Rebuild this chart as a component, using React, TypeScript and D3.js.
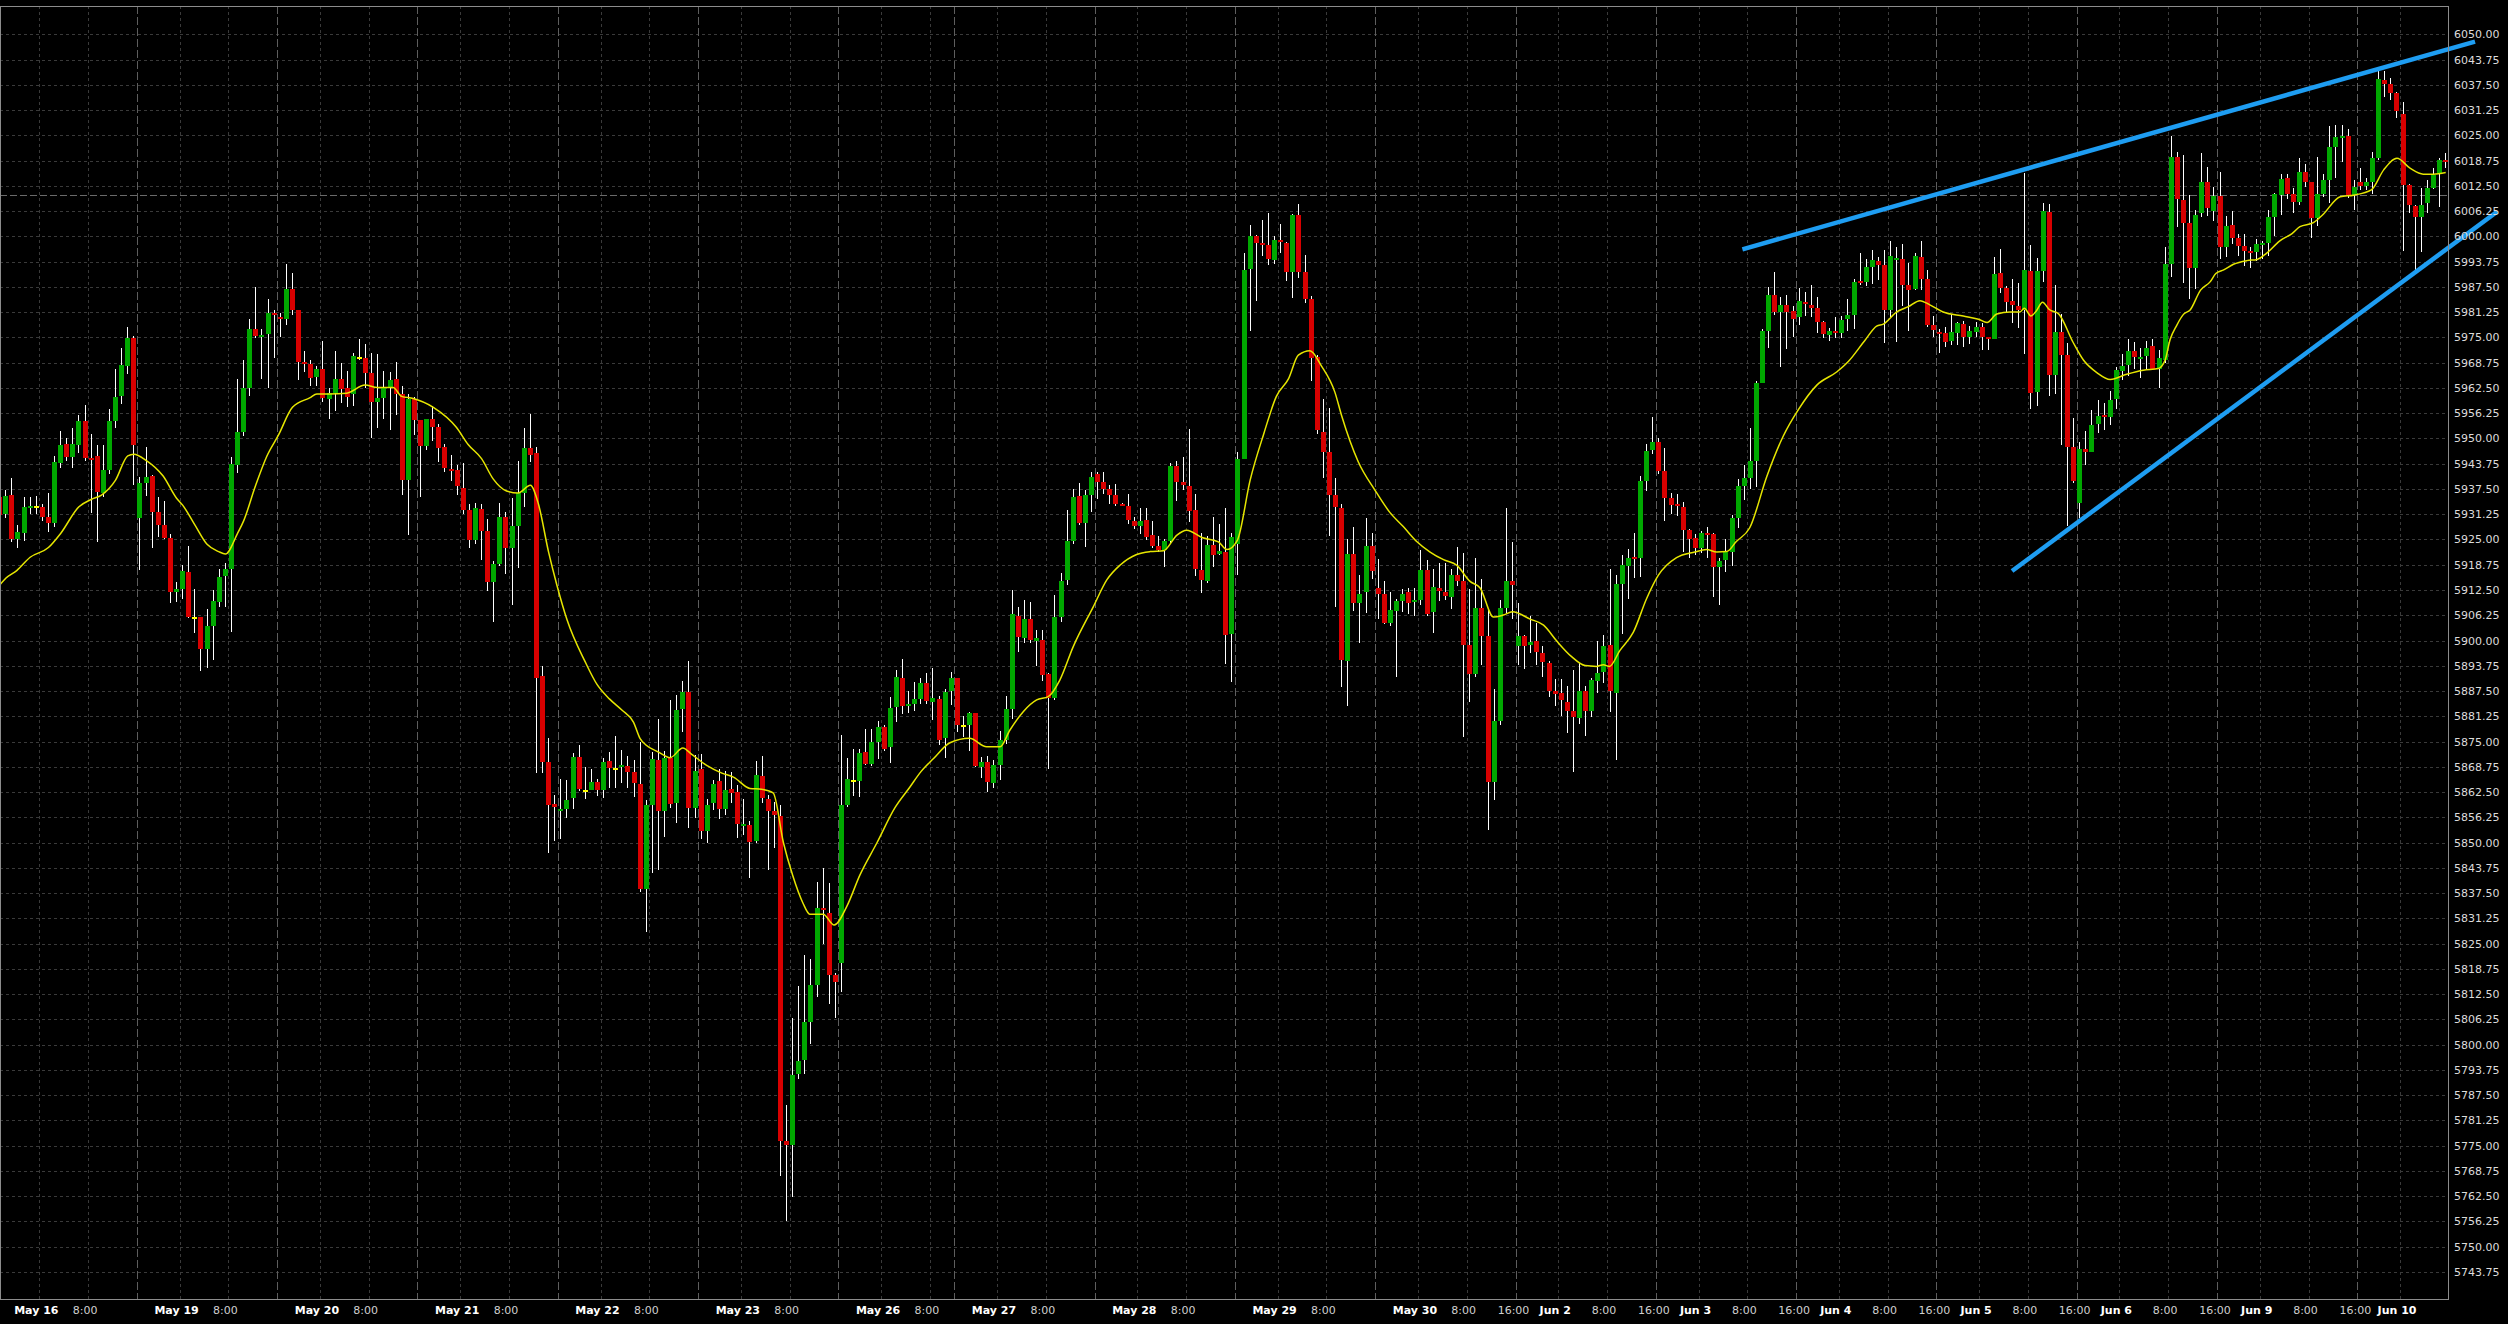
import { useEffect, useRef } from "react";
import * as d3 from "d3";

// Hourly candles, bar 0 .. 401 (May 15 evening -> Jun 10 morning)
const OPEN = [
  5935.5, 5931.4, 5936.0, 5925.2, 5926.7, 5932.9, 5933.0, 5933.0, 5930.5, 5929.1,
  5944.0, 5948.6, 5945.5, 5948.4, 5954.3, 5945.2, 5945.6, 5936.6, 5942.2, 5954.3,
  5960.6, 5968.0, 5974.8, 5930.4, 5938.9, 5940.7, 5931.9, 5928.5, 5925.4, 5912.1,
  5912.7, 5916.9, 5905.5, 5905.7, 5897.8, 5903.6, 5909.6, 5915.9, 5917.7, 5943.4,
  5951.6, 5962.6, 5977.0, 5975.2, 5975.8, 5981.1, 5980.1, 5979.5, 5986.9, 5981.8,
  5969.0, 5968.4, 5965.1, 5967.1, 5959.7, 5961.2, 5964.7, 5962.4, 5960.9, 5969.9,
  5969.9, 5966.2, 5958.9, 5959.9, 5962.7, 5964.7, 5961.0, 5939.7, 5959.7, 5954.5,
  5948.1, 5954.8, 5952.9, 5947.9, 5942.5, 5942.2, 5937.8, 5932.3, 5924.8, 5932.5,
  5927.0, 5914.6, 5919.0, 5930.6, 5922.9, 5928.3, 5936.6, 5947.6, 5946.4, 5891.1,
  5869.9, 5859.6, 5857.9, 5858.3, 5861.0, 5871.3, 5862.8, 5863.0, 5865.1, 5862.9,
  5870.1, 5868.3, 5868.6, 5868.9, 5867.5, 5864.5, 5838.6, 5859.4, 5870.5, 5857.7,
  5871.0, 5859.9, 5883.1, 5887.3, 5858.6, 5868.2, 5852.8, 5859.9, 5865.3, 5858.2,
  5863.2, 5862.4, 5854.1, 5854.4, 5850.4, 5866.5, 5860.8, 5857.8, 5856.6, 5776.1,
  5775.1, 5792.7, 5796.2, 5805.5, 5814.7, 5833.9, 5832.7, 5817.2, 5820.3, 5859.4,
  5865.3, 5865.3, 5872.4, 5869.5, 5875.0, 5878.6, 5873.6, 5883.6, 5890.8, 5883.8,
  5884.3, 5885.5, 5889.5, 5884.9, 5885.5, 5875.9, 5887.5, 5890.8, 5878.9, 5879.1,
  5882.0, 5868.8, 5870.0, 5864.8, 5869.2, 5875.4, 5883.0, 5906.0, 5900.5, 5905.3,
  5900.0, 5900.1, 5891.7, 5885.8, 5905.9, 5915.0, 5924.7, 5935.8, 5929.1, 5936.0,
  5941.2, 5939.1, 5937.4, 5936.0, 5933.9, 5933.3, 5929.6, 5928.4, 5929.8, 5926.1,
  5923.4, 5922.4, 5924.6, 5943.2, 5939.1, 5938.2, 5932.3, 5917.4, 5914.8, 5923.6,
  5921.5, 5922.0, 5901.6, 5924.0, 5945.0, 5992.0, 6000.0, 5998.3, 5997.8, 5994.2,
  5999.0, 5998.3, 5991.2, 6005.3, 5991.2, 5984.6, 5970.1, 5951.7, 5946.6, 5935.9,
  5932.7, 5895.0, 5921.4, 5909.4, 5912.0, 5923.5, 5913.0, 5911.5, 5904.3, 5907.4,
  5909.9, 5912.0, 5909.6, 5910.1, 5917.4, 5907.1, 5913.0, 5912.0, 5910.7, 5916.1,
  5914.8, 5899.0, 5891.7, 5908.1, 5901.2, 5865.1, 5880.0, 5908.1, 5914.8, 5898.6,
  5901.2, 5898.8, 5899.9, 5896.8, 5894.5, 5887.4, 5886.9, 5884.7, 5882.6, 5880.8,
  5887.6, 5882.6, 5890.1, 5892.3, 5898.9, 5887.0, 5914.1, 5918.5, 5920.6, 5920.3,
  5939.4, 5947.1, 5949.1, 5941.9, 5935.3, 5933.7, 5933.1, 5927.3, 5925.4, 5922.9,
  5926.6, 5926.3, 5918.3, 5919.9, 5921.9, 5930.3, 5938.2, 5940.2, 5944.4, 5963.8,
  5976.5, 5985.5, 5981.2, 5983.1, 5981.5, 5980.0, 5983.7, 5983.1, 5982.4, 5978.7,
  5975.6, 5976.5, 5976.0, 5979.6, 5980.6, 5988.8, 5988.8, 5992.3, 5993.9, 5992.9,
  5981.9, 5994.2, 5994.4, 5988.0, 5987.0, 5995.0, 5989.5, 5978.1, 5976.4, 5976.2,
  5974.1, 5976.2, 5978.3, 5975.2, 5976.4, 5977.5, 5975.0, 5974.6, 5990.9, 5987.3,
  5984.0, 5982.8, 5981.8, 5991.4, 5961.6, 5991.4, 6006.1, 5965.7, 5976.3, 5970.6,
  5947.9, 5934.1, 5947.3, 5946.7, 5953.5, 5955.8, 5955.4, 5959.8, 5966.8, 5968.2,
  5971.6, 5969.8, 5970.4, 5972.9, 5967.3, 5969.4, 5993.2, 6019.6, 6009.0, 6003.2,
  5992.2, 6005.7, 6013.4, 6006.3, 6010.0, 5997.4, 6002.8, 5999.5, 5997.6, 5996.4,
  5996.2, 5997.9, 5998.4, 6004.9, 6010.3, 6014.4, 6010.5, 6008.6, 6016.0, 6013.5,
  6004.5, 6010.5, 6013.9, 6022.2, 6024.4, 6024.8, 6010.2, 6013.5, 6012.5, 6013.5,
  6019.5, 6038.7, 6037.7, 6035.4, 6030.4, 6012.7, 6007.5, 6004.9, 6008.3, 6011.9,
  6015.6, 6018.9,
];

const HIGH = [
  5936.5, 5937.2, 5940.1, 5928.6, 5935.6, 5935.6, 5935.7, 5933.9, 5936.4, 5945.6,
  5951.8, 5950.0, 5952.5, 5955.8, 5958.2, 5951.0, 5948.3, 5948.4, 5957.4, 5967.1,
  5972.5, 5977.5, 5975.3, 5940.5, 5947.8, 5941.0, 5935.6, 5934.6, 5926.3, 5914.5,
  5918.8, 5923.4, 5912.7, 5905.9, 5907.7, 5912.6, 5917.8, 5919.1, 5945.5, 5964.6,
  5969.4, 5979.5, 5987.4, 5977.2, 5984.4, 5981.9, 5981.1, 5993.2, 5991.0, 5981.9,
  5971.7, 5969.5, 5967.9, 5974.1, 5962.6, 5971.6, 5968.6, 5966.8, 5971.2, 5974.6,
  5973.4, 5971.2, 5970.9, 5966.8, 5966.4, 5968.9, 5962.9, 5961.0, 5960.2, 5954.6,
  5954.8, 5958.0, 5953.6, 5948.6, 5945.9, 5943.5, 5943.9, 5933.9, 5934.1, 5933.9,
  5930.1, 5919.6, 5934.1, 5931.7, 5935.2, 5944.4, 5952.5, 5956.0, 5948.0, 5893.6,
  5875.9, 5861.9, 5865.8, 5865.4, 5872.1, 5874.1, 5868.8, 5868.2, 5865.7, 5871.0,
  5872.3, 5876.3, 5873.0, 5871.4, 5870.5, 5874.8, 5860.6, 5872.4, 5880.5, 5872.7,
  5885.2, 5886.6, 5890.0, 5894.9, 5871.7, 5871.9, 5860.8, 5865.6, 5868.1, 5867.7,
  5867.5, 5864.3, 5860.8, 5855.4, 5870.1, 5871.4, 5861.8, 5860.1, 5859.2, 5785.1,
  5806.6, 5814.5, 5822.2, 5821.1, 5840.3, 5843.6, 5840.0, 5817.8, 5876.7, 5871.0,
  5873.1, 5873.1, 5878.1, 5878.1, 5880.0, 5879.1, 5886.1, 5892.6, 5895.4, 5887.5,
  5889.7, 5890.7, 5891.9, 5893.1, 5886.3, 5888.1, 5892.1, 5890.8, 5881.3, 5882.4,
  5882.1, 5871.1, 5871.5, 5870.4, 5877.6, 5886.3, 5912.5, 5908.4, 5910.0, 5909.6,
  5902.6, 5902.6, 5891.9, 5911.2, 5916.6, 5932.3, 5937.4, 5938.9, 5937.2, 5941.8,
  5941.8, 5941.8, 5938.5, 5938.7, 5934.1, 5936.2, 5930.6, 5932.7, 5932.9, 5929.6,
  5925.9, 5925.0, 5944.0, 5944.4, 5945.3, 5952.3, 5936.2, 5926.5, 5925.9, 5930.5,
  5928.8, 5932.7, 5926.7, 5946.6, 5996.0, 6002.8, 6000.4, 6004.1, 6005.8, 6000.0,
  6003.1, 5998.6, 6005.5, 6007.9, 5995.3, 5985.3, 5970.6, 5959.7, 5957.6, 5940.2,
  5933.7, 5925.0, 5928.2, 5916.3, 5930.4, 5926.5, 5920.2, 5914.8, 5912.0, 5910.2,
  5912.8, 5913.0, 5913.0, 5922.5, 5920.0, 5917.6, 5919.2, 5919.2, 5917.8, 5923.1,
  5921.7, 5912.8, 5920.4, 5915.1, 5907.7, 5887.9, 5910.0, 5932.7, 5924.5, 5909.4,
  5901.4, 5906.0, 5904.3, 5898.6, 5895.0, 5890.5, 5890.5, 5888.7, 5892.7, 5894.5,
  5888.7, 5890.8, 5899.9, 5901.4, 5917.6, 5916.1, 5921.2, 5922.7, 5926.7, 5940.6,
  5948.6, 5955.3, 5950.0, 5947.7, 5936.4, 5936.2, 5934.2, 5927.5, 5926.3, 5927.2,
  5928.2, 5926.7, 5920.3, 5925.0, 5931.1, 5940.0, 5943.5, 5952.6, 5964.3, 5977.1,
  5987.4, 5991.2, 5985.0, 5985.5, 5982.7, 5987.3, 5986.2, 5987.9, 5985.0, 5979.0,
  5977.4, 5980.0, 5980.4, 5984.6, 5989.5, 5996.0, 5994.4, 5996.6, 5994.8, 5996.6,
  5998.9, 5997.3, 5998.1, 5993.3, 5996.0, 5998.9, 5991.8, 5980.3, 5977.0, 5977.6,
  5980.9, 5978.9, 5979.0, 5977.8, 5978.9, 5978.5, 5975.2, 5995.0, 5996.9, 5987.8,
  5989.4, 5988.4, 6015.8, 5997.9, 5994.6, 6008.3, 6008.0, 5988.0, 5980.7, 5973.5,
  5955.0, 5949.2, 5951.9, 5957.0, 5959.5, 5958.7, 5961.8, 5967.8, 5970.8, 5974.5,
  5973.9, 5972.3, 5974.1, 5974.5, 5972.0, 5997.4, 6024.8, 6021.0, 6020.1, 6010.2,
  6006.5, 6020.7, 6017.2, 6012.1, 6016.0, 6005.0, 6006.3, 6000.6, 6000.6, 5997.4,
  5999.3, 5998.9, 6006.5, 6010.8, 6015.4, 6015.4, 6012.0, 6019.5, 6017.9, 6013.5,
  6019.7, 6015.4, 6027.3, 6027.6, 6027.6, 6026.5, 6013.9, 6016.8, 6014.4, 6020.9,
  6040.8, 6040.8, 6039.1, 6035.8, 6033.3, 6012.9, 6007.7, 6011.9, 6013.9, 6016.8,
  6019.3, 6020.7,
];

const LOW = [
  5930.0, 5930.2, 5924.4, 5922.8, 5924.7, 5931.4, 5931.4, 5929.6, 5926.9, 5928.1,
  5942.8, 5944.5, 5942.8, 5946.5, 5944.5, 5931.6, 5924.4, 5935.6, 5941.2, 5952.7,
  5958.5, 5966.0, 5938.5, 5917.4, 5935.7, 5922.9, 5925.5, 5925.2, 5909.3, 5909.6,
  5910.2, 5905.5, 5901.8, 5892.5, 5893.3, 5895.3, 5908.2, 5908.2, 5902.2, 5941.5,
  5950.6, 5960.5, 5974.8, 5964.7, 5962.6, 5970.0, 5975.0, 5978.1, 5980.5, 5964.5,
  5966.5, 5962.9, 5962.9, 5959.1, 5954.9, 5956.9, 5958.8, 5957.9, 5958.0, 5969.5,
  5962.6, 5950.2, 5952.7, 5954.7, 5952.2, 5955.8, 5936.1, 5926.2, 5950.9, 5935.6,
  5947.2, 5949.4, 5944.2, 5941.6, 5939.5, 5935.9, 5931.2, 5922.9, 5924.0, 5919.8,
  5912.2, 5904.7, 5918.5, 5916.5, 5908.7, 5917.9, 5933.0, 5944.2, 5867.1, 5867.1,
  5847.5, 5850.5, 5850.9, 5856.1, 5858.3, 5862.7, 5860.8, 5863.0, 5861.6, 5861.0,
  5863.5, 5863.5, 5864.8, 5863.4, 5861.3, 5837.8, 5828.0, 5842.6, 5843.3, 5851.4,
  5858.5, 5854.9, 5877.4, 5853.7, 5856.1, 5850.9, 5849.8, 5858.0, 5855.9, 5856.9,
  5859.9, 5851.2, 5852.0, 5841.2, 5849.9, 5859.9, 5843.3, 5848.7, 5767.6, 5756.4,
  5762.2, 5791.4, 5792.7, 5800.1, 5811.9, 5825.0, 5810.0, 5806.6, 5813.0, 5858.9,
  5861.5, 5861.3, 5869.1, 5868.9, 5870.8, 5872.7, 5869.8, 5879.8, 5881.7, 5882.1,
  5882.6, 5884.2, 5884.2, 5880.3, 5874.1, 5871.0, 5884.0, 5877.3, 5876.2, 5872.7,
  5868.8, 5865.9, 5862.6, 5863.6, 5865.6, 5874.5, 5880.7, 5897.2, 5899.5, 5899.3,
  5893.8, 5890.1, 5868.1, 5885.4, 5904.6, 5913.7, 5923.9, 5928.6, 5923.2, 5931.9,
  5935.0, 5936.2, 5933.9, 5933.3, 5933.3, 5928.8, 5927.6, 5926.3, 5924.9, 5922.8,
  5922.0, 5918.3, 5924.0, 5934.6, 5937.2, 5929.4, 5915.9, 5911.8, 5914.3, 5918.3,
  5921.1, 5894.3, 5889.8, 5916.3, 5944.8, 5976.6, 5984.0, 5995.1, 5993.0, 5993.2,
  5995.9, 5988.9, 5984.8, 5989.7, 5983.6, 5964.3, 5951.0, 5940.2, 5925.8, 5908.4,
  5888.4, 5883.8, 5907.4, 5899.4, 5906.8, 5915.1, 5905.3, 5904.0, 5903.6, 5890.9,
  5907.1, 5906.6, 5906.1, 5908.9, 5906.0, 5901.9, 5909.9, 5910.1, 5907.7, 5913.5,
  5876.1, 5884.8, 5890.9, 5894.0, 5853.0, 5860.5, 5879.1, 5906.8, 5905.3, 5894.0,
  5893.0, 5896.8, 5894.0, 5890.9, 5886.1, 5883.9, 5881.4, 5877.2, 5867.5, 5879.4,
  5876.4, 5881.2, 5886.9, 5889.6, 5882.3, 5870.4, 5901.6, 5910.2, 5915.4, 5915.7,
  5936.9, 5946.2, 5941.3, 5929.6, 5931.4, 5930.7, 5921.9, 5920.5, 5921.2, 5921.7,
  5920.5, 5910.8, 5908.8, 5917.0, 5918.5, 5927.9, 5934.7, 5937.6, 5937.9, 5963.6,
  5972.4, 5980.6, 5967.8, 5972.2, 5975.1, 5978.0, 5980.2, 5980.0, 5976.2, 5974.9,
  5974.2, 5974.9, 5974.9, 5976.7, 5977.1, 5988.0, 5987.6, 5988.2, 5989.2, 5973.7,
  5979.7, 5973.9, 5982.8, 5976.7, 5986.7, 5986.7, 5977.6, 5975.0, 5971.2, 5972.7,
  5973.1, 5973.1, 5972.7, 5973.4, 5975.2, 5971.9, 5971.9, 5974.6, 5985.9, 5981.4,
  5978.6, 5977.4, 5970.8, 5957.4, 5958.1, 5988.8, 5960.5, 5961.0, 5948.4, 5928.3,
  5938.9, 5930.2, 5943.4, 5946.7, 5951.3, 5952.2, 5953.3, 5957.4, 5964.5, 5965.5,
  5967.1, 5964.9, 5967.3, 5966.9, 5962.4, 5968.7, 5990.0, 6002.4, 5988.5, 5984.4,
  5986.9, 6004.9, 6005.0, 6003.9, 5994.5, 5994.8, 5998.1, 5995.2, 5992.7, 5992.1,
  5994.0, 5994.3, 5995.1, 6000.1, 6005.3, 6009.3, 6005.9, 6007.8, 6012.3, 5999.7,
  6002.5, 6009.8, 6008.2, 6014.4, 6018.5, 6009.4, 6006.5, 6011.5, 6011.5, 6010.6,
  6018.9, 6034.6, 6033.7, 6029.2, 5996.4, 6005.7, 5991.8, 5996.2, 6005.7, 6011.6,
  6007.3, 6016.8,
];

const CLOSE = [
  5931.0, 5935.7, 5925.2, 5926.8, 5933.0, 5933.3, 5933.0, 5930.5, 5929.1, 5944.2,
  5948.4, 5945.5, 5948.6, 5954.3, 5945.2, 5944.8, 5936.8, 5942.2, 5954.3, 5960.2,
  5968.2, 5974.8, 5948.4, 5938.9, 5940.4, 5931.9, 5928.5, 5925.4, 5912.1, 5912.7,
  5917.2, 5905.9, 5905.5, 5897.8, 5903.6, 5909.8, 5915.6, 5917.7, 5943.7, 5951.6,
  5962.6, 5977.0, 5975.3, 5975.6, 5981.1, 5980.6, 5979.5, 5987.1, 5981.8, 5969.0,
  5968.5, 5964.9, 5967.1, 5959.9, 5961.2, 5964.7, 5962.3, 5960.3, 5970.4, 5969.9,
  5966.3, 5959.1, 5960.0, 5962.7, 5964.4, 5961.0, 5939.8, 5959.7, 5954.5, 5948.1,
  5954.8, 5952.9, 5947.7, 5942.7, 5942.0, 5938.2, 5932.3, 5924.8, 5932.8, 5927.0,
  5914.6, 5919.0, 5930.6, 5922.9, 5928.3, 5936.6, 5947.6, 5945.9, 5890.8, 5869.9,
  5859.4, 5858.8, 5858.3, 5860.6, 5871.3, 5863.2, 5862.8, 5864.9, 5862.9, 5869.9,
  5868.5, 5868.3, 5869.2, 5867.5, 5864.8, 5838.6, 5859.4, 5870.6, 5857.7, 5871.0,
  5859.6, 5882.8, 5887.3, 5858.6, 5867.7, 5852.8, 5859.4, 5864.6, 5858.2, 5862.9,
  5862.2, 5854.5, 5854.6, 5850.2, 5866.7, 5861.1, 5857.8, 5856.9, 5776.1, 5775.1,
  5792.5, 5796.0, 5805.5, 5814.7, 5833.9, 5833.2, 5817.3, 5815.4, 5859.4, 5865.8,
  5865.3, 5872.2, 5869.5, 5874.9, 5878.6, 5873.1, 5883.3, 5890.9, 5883.8, 5884.3,
  5885.6, 5889.5, 5885.0, 5885.7, 5875.4, 5887.2, 5890.8, 5879.1, 5878.9, 5882.0,
  5869.0, 5870.0, 5865.1, 5869.2, 5875.4, 5883.0, 5906.5, 5900.8, 5905.3, 5900.1,
  5900.5, 5891.5, 5885.7, 5905.7, 5914.7, 5924.7, 5935.4, 5929.1, 5936.0, 5940.4,
  5939.3, 5937.4, 5936.0, 5933.9, 5933.4, 5929.8, 5928.4, 5929.6, 5925.7, 5923.4,
  5922.4, 5924.6, 5943.2, 5939.1, 5938.5, 5932.1, 5917.7, 5915.0, 5923.6, 5921.1,
  5922.1, 5901.3, 5925.7, 5944.8, 5991.7, 6000.0, 5998.3, 5997.8, 5994.5, 5999.0,
  5998.5, 5991.2, 6005.3, 5991.2, 5984.6, 5969.9, 5952.0, 5946.6, 5936.1, 5933.0,
  5895.3, 5921.4, 5909.4, 5911.5, 5923.5, 5917.1, 5911.5, 5904.3, 5907.6, 5909.9,
  5911.5, 5909.4, 5910.1, 5917.4, 5906.6, 5913.2, 5912.2, 5911.0, 5916.1, 5914.8,
  5899.0, 5891.7, 5908.1, 5901.2, 5865.1, 5880.0, 5908.1, 5914.8, 5913.8, 5901.2,
  5898.6, 5899.7, 5897.1, 5894.7, 5887.4, 5886.8, 5885.2, 5882.6, 5881.0, 5887.4,
  5882.6, 5890.2, 5892.0, 5898.6, 5887.4, 5913.9, 5918.8, 5920.5, 5920.3, 5939.4,
  5946.8, 5949.1, 5941.9, 5935.3, 5933.5, 5933.3, 5927.3, 5925.1, 5922.9, 5926.6,
  5926.1, 5918.3, 5919.7, 5921.9, 5930.4, 5938.2, 5940.2, 5944.4, 5963.8, 5976.5,
  5985.5, 5981.2, 5983.1, 5981.2, 5979.5, 5983.9, 5983.3, 5982.4, 5978.7, 5975.8,
  5976.7, 5976.0, 5979.3, 5980.6, 5988.8, 5988.5, 5992.3, 5994.2, 5992.9, 5981.8,
  5995.1, 5994.6, 5988.0, 5986.7, 5995.1, 5989.5, 5978.1, 5976.8, 5975.8, 5973.9,
  5976.3, 5978.5, 5975.0, 5976.6, 5977.5, 5975.0, 5974.5, 5990.7, 5987.3, 5983.8,
  5983.0, 5981.8, 5991.8, 5961.3, 5991.4, 6006.4, 5965.7, 5976.3, 5970.6, 5947.9,
  5939.5, 5947.4, 5946.7, 5953.3, 5955.5, 5955.4, 5959.5, 5967.0, 5967.9, 5971.6,
  5970.1, 5970.2, 5972.5, 5967.3, 5969.8, 5993.2, 6019.6, 6009.2, 6003.4, 5992.1,
  6005.3, 6013.4, 6006.9, 6010.0, 5997.4, 6002.6, 5999.7, 5997.7, 5996.4, 5996.0,
  5998.1, 5998.4, 6004.9, 6010.5, 6014.2, 6010.5, 6008.6, 6016.0, 6013.5, 6004.5,
  6010.5, 6013.9, 6022.2, 6024.7, 6024.8, 6010.2, 6012.1, 6012.5, 6013.5, 6019.5,
  6038.9, 6037.7, 6035.4, 6030.9, 6012.7, 6007.7, 6004.9, 6007.7, 6011.9, 6015.2,
  6018.9, 6018.3,
];

// yellow moving average, read at these bar positions
const MA_BAR = [
  0, 1, 2.8, 5, 8, 10, 13, 15, 16.7, 19, 21, 22, 24, 26.8, 29, 30, 32, 34, 35.9, 37, 39, 40, 41.9, 43.8, 45.7, 48, 50.9,
  52, 54, 56.9, 59.9, 61.9, 64.5, 65.9, 67.8, 71.1, 74.9, 76.8, 79, 80.9, 83.1, 85, 87, 88.3, 90, 91.3, 93, 96, 97.9,
  100, 102, 103.9, 105, 106, 108, 109.9, 112, 113.4, 115.9, 118.4, 120.3, 123, 124.9, 126.8, 128.5, 130, 131.7, 132.8, 135, 136.8, 138.9, 141, 143.8, 146.8, 149.2,
  151, 153.1, 155.8, 159, 161.8, 164, 165.6, 167.8, 170, 171.9, 173.8, 176, 179.3, 181.5, 183.7, 186.4, 188.6, 190.8, 193, 194.6, 197.1, 199.8, 201.2,
  202.9, 205, 207.2, 209.3, 211.3, 212.9, 214.8, 216.7, 218.9, 220, 222.7, 225.5, 227.9, 230.1, 232.3, 234.5, 236.7, 238.9, 241, 242.7, 244.9, 246.5, 248, 250.9, 253.1,
  255.3, 257.7, 259.9, 261.8, 262.9, 263.9, 265.6, 267.8, 270, 271.9, 274.9, 277.9, 279.8, 281.5, 283.1, 284.7, 286.9, 289.7, 292.4, 294.9, 297.9, 301.2, 303.1,
  305.8, 307.7, 308.8, 311, 312.9, 314.8, 316.5, 318.6, 321.9, 324.4, 325.8, 327.4, 329.6, 331.2, 331.9, 333, 333.9, 334.9, 336, 337.5, 339.9, 341.6, 343.8, 346, 348.7, 351.4, 353.9, 355,
  355.8, 356.9, 358, 359.1, 360.8, 362.4, 363.3, 364.6, 366.2, 368.4, 370.1, 371.6, 373.8, 375.8,
  377.1, 379.3, 380.8, 383.7, 385.9, 388.8, 390.8, 393, 395.2, 397.3, 399, 401,
];
const MA_VAL = [
  5913.7, 5915.4, 5917.3, 5920.6, 5923.0, 5926.5, 5933.1, 5934.9, 5936.0, 5939.7, 5945.7, 5946.1, 5944.6, 5940.7, 5935.2, 5933.5, 5928.6, 5923.8, 5922.0, 5921.4, 5926.5, 5929.6, 5938.1, 5945.6, 5950.8, 5957.7, 5960.1,
  5961.0, 5961.0, 5961.2, 5963.2, 5962.6, 5962.6, 5960.4, 5959.9, 5957.7, 5952.7, 5948.5, 5945.0, 5940.0, 5937.0, 5936.5, 5938.4, 5933.9, 5921.8, 5914.0, 5905.2, 5894.7, 5889.2,
  5885.5, 5882.8, 5879.8, 5875.7, 5874.1, 5872.4, 5871.0, 5873.4, 5871.9, 5869.1, 5867.2, 5866.2, 5863.4, 5863.2, 5862.3, 5849.9, 5841.9, 5835.0, 5832.3, 5832.3, 5829.6, 5834.3, 5841.9, 5849.9, 5858.7, 5863.7,
  5867.5, 5870.8, 5874.7, 5875.8, 5873.7, 5873.7, 5877.8, 5882.4, 5885.3, 5886.1, 5890.2, 5898.5, 5908.4, 5915.0, 5918.7, 5921.3, 5922.0, 5922.2, 5926.1, 5927.3, 5925.5, 5924.4, 5922.5,
  5924.8, 5939.7, 5951.0, 5960.4, 5964.8, 5970.6, 5971.7, 5967.9, 5961.4, 5955.6, 5944.3, 5937.1, 5931.7, 5928.2, 5924.5, 5921.9, 5920.0, 5918.6, 5914.7, 5913.0, 5905.8, 5906.3, 5907.1, 5905.3, 5903.8,
  5899.8, 5896.0, 5893.8, 5893.6, 5894.0, 5893.6, 5897.5, 5902.0, 5910.4, 5916.1, 5920.5, 5921.9, 5922.5, 5921.9, 5922.0, 5924.5, 5927.9, 5940.6, 5950.6, 5957.2, 5963.2, 5966.5, 5969.1,
  5974.3, 5977.8, 5978.3, 5981.3, 5982.6, 5984.1, 5983.0, 5981.3, 5980.3, 5979.5, 5978.7, 5980.8, 5981.3, 5981.3, 5982.2, 5980.3, 5981.6, 5983.7, 5981.9, 5980.9, 5973.8, 5969.4, 5966.3, 5964.6, 5965.9, 5966.9, 5967.3, 5969.4,
  5974.4, 5978.0, 5980.7, 5981.8, 5986.7, 5988.8, 5990.8, 5991.7, 5993.1, 5994.0, 5994.3, 5995.8, 5998.9, 6000.7,
  6002.4, 6003.4, 6005.3, 6009.8, 6010.2, 6011.5, 6016.4, 6019.3, 6016.8, 6015.4, 6015.4, 6015.8,
];

// session markers (first bar of each period)
const DAY_LABELS = ["May 16", "May 19", "May 20", "May 21", "May 22", "May 23", "May 26", "May 27", "May 28",
  "May 29", "May 30", "Jun 2", "Jun 3", "Jun 4", "Jun 5", "Jun 6", "Jun 9", "Jun 10"];
const DAY_BAR = [7, 30, 53, 76, 99, 122, 145, 164, 187, 210, 233, 256, 279, 302, 325, 348, 371, 394];
const H8_BAR = [15, 38, 61, 84, 107, 130, 153, 172, 195, 218, 241, 264, 287, 310, 333, 356, 379];
const H16_BAR = [23, 46, 69, 92, 115, 138, 157, 180, 203, 226, 249, 272, 295, 318, 341, 364, 387];
const H16_LABEL_FROM = 10; // "16:00" text shown from May 30 on

// trend lines drawn on the chart: [bar, price]
const UPPER_LINE = [[285.7, 5996.8], [405.8, 6048.2]];
const LOWER_LINE = [[329.9, 5917.2], [409.4, 6006.1]];

const PRICE_LINE = 6010.25;
const Y_MIN = 5743.75;
const Y_STEP = 6.25;
const Y_COUNT = 50;

const W = 2508;
const H = 1324;

export default function App() {
  const svgRef = useRef<SVGSVGElement>(null);

  useEffect(() => {
    document.body.style.margin = "0";
    document.body.style.background = "#000";
    if (!svgRef.current) return;
    const svg = d3.select(svgRef.current);
    svg.selectAll("*").remove();

    const plot = { left: 0, top: 6, right: 2448, bottom: 1299 };
    const x = d3.scaleLinear().domain([0, 401]).range([-0.35, 2445.75]);
    const y = d3.scaleLinear().domain([5743.75, 6050]).range([1272, 34.3]);
    const crisp = (v: number) => Math.round(v) + 0.5;
    const font = "'DejaVu Sans', Verdana, sans-serif";

    svg.append("rect").attr("width", W).attr("height", H).attr("fill", "#000");

    const yTicks = d3.range(Y_COUNT).map(k => Y_MIN + k * Y_STEP);

    // Grid
    const grid = svg.append("g").attr("shape-rendering", "crispEdges");
    grid.selectAll("line.h").data(yTicks).join("line")
      .attr("x1", plot.left).attr("x2", plot.right)
      .attr("y1", d => crisp(y(d))).attr("y2", d => crisp(y(d)))
      .attr("stroke", "#3a3a3a").attr("stroke-dasharray", "3,3");

    const dotted = [...DAY_BAR, ...H8_BAR];
    grid.selectAll("line.v").data(dotted).join("line")
      .attr("x1", d => crisp(x(d - 0.5))).attr("x2", d => crisp(x(d - 0.5)))
      .attr("y1", plot.top).attr("y2", plot.bottom)
      .attr("stroke", "#3a3a3a").attr("stroke-dasharray", "3,3");

    grid.selectAll("line.s").data(H16_BAR).join("line")
      .attr("x1", d => crisp(x(d - 0.5))).attr("x2", d => crisp(x(d - 0.5)))
      .attr("y1", plot.top).attr("y2", plot.bottom)
      .attr("stroke", "#5e5e5e").attr("stroke-dasharray", "8,3");

    // current price line
    grid.append("line")
      .attr("x1", plot.left).attr("x2", plot.right)
      .attr("y1", crisp(y(PRICE_LINE))).attr("y2", crisp(y(PRICE_LINE)))
      .attr("stroke", "#6a6a6a").attr("stroke-dasharray", "7,3");

    // Candles
    const bars = d3.range(OPEN.length);
    const cg = svg.append("g").attr("shape-rendering", "crispEdges");
    const left = (i: number) => Math.round(x(i) - 2.5);

    cg.selectAll("rect.wick").data(bars).join("rect")
      .attr("x", i => left(i) + 2).attr("width", 1)
      .attr("y", i => y(HIGH[i])).attr("height", i => Math.max(1, y(LOW[i]) - y(HIGH[i])))
      .attr("fill", "#ffffff");

    cg.selectAll("rect.body").data(bars).join("rect")
      .attr("x", i => left(i)).attr("width", 5)
      .attr("y", i => {
        const top = y(Math.max(OPEN[i], CLOSE[i]));
        const h = y(Math.min(OPEN[i], CLOSE[i])) - top;
        return h < 2 ? top - (2 - h) / 2 : top;
      })
      .attr("height", i => Math.max(2, y(Math.min(OPEN[i], CLOSE[i])) - y(Math.max(OPEN[i], CLOSE[i]))))
      .attr("fill", i => CLOSE[i] > OPEN[i] ? "#00a800" : CLOSE[i] < OPEN[i] ? "#d80000" : "#ffff00");

    // Moving average
    const maLine = d3.line<number>()
      .x(k => x(MA_BAR[k])).y(k => y(MA_VAL[k]))
      .curve(d3.curveMonotoneX);
    svg.append("path").datum(d3.range(MA_BAR.length))
      .attr("d", maLine).attr("fill", "none")
      .attr("stroke", "#e6e600").attr("stroke-width", 1.5);

    // Trend lines
    [UPPER_LINE, LOWER_LINE].forEach(seg => {
      svg.append("line")
        .attr("x1", x(seg[0][0])).attr("y1", y(seg[0][1]))
        .attr("x2", x(seg[1][0])).attr("y2", y(seg[1][1]))
        .attr("stroke", "#1e9df2").attr("stroke-width", 4.5).attr("stroke-linecap", "butt");
    });

    // Frame
    svg.append("path")
      .attr("d", `M${plot.left + 0.5},${plot.top + 0.5}H${plot.right + 0.5}V${plot.bottom + 0.5}H${plot.left + 0.5}Z`)
      .attr("fill", "none").attr("stroke", "#8c8c8c").attr("shape-rendering", "crispEdges");

    // Right axis labels
    svg.append("g").selectAll("text").data(yTicks).join("text")
      .attr("x", 2454).attr("y", d => y(d) + 4)
      .attr("fill", "#dcdcdc").attr("font-family", font).attr("font-size", 11)
      .text(d => d.toFixed(2));

    // Bottom axis labels
    const xg = svg.append("g").attr("font-family", font).attr("font-size", 11).attr("text-anchor", "middle");
    xg.selectAll("text.d").data(DAY_BAR).join("text")
      .attr("x", d => x(d - 0.5) - 3).attr("y", 1314)
      .attr("fill", "#ffffff").attr("font-weight", "bold")
      .text((_, k) => DAY_LABELS[k]);
    xg.selectAll("text.e").data(H8_BAR).join("text")
      .attr("x", d => x(d - 0.5) - 3).attr("y", 1314)
      .attr("fill", "#d0d0d0")
      .text("8:00");
    xg.selectAll("text.s").data(H16_BAR.slice(H16_LABEL_FROM)).join("text")
      .attr("x", d => x(d - 0.5) - 2).attr("y", 1314)
      .attr("fill", "#d0d0d0")
      .text("16:00");
  }, []);

  return <svg ref={svgRef} width={W} height={H} style={{ display: "block", background: "#000" }} />;
}
